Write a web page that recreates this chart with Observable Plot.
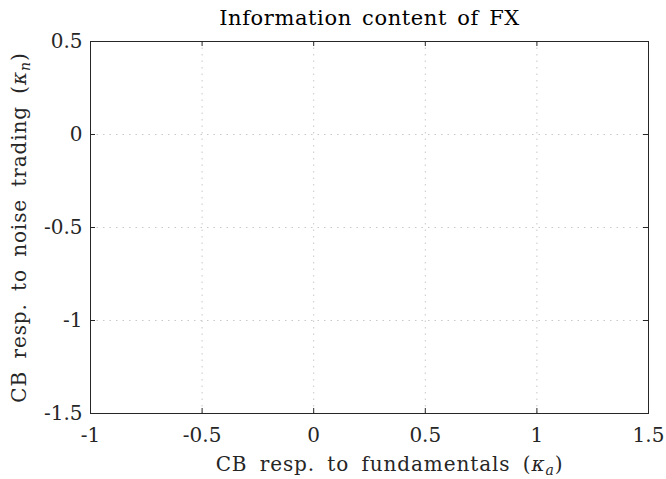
<!DOCTYPE html>
<html><head><meta charset="utf-8">
<script src="https://cdn.jsdelivr.net/npm/d3@7"></script>
<script src="https://cdn.jsdelivr.net/npm/@observablehq/plot@0.6"></script>
<style>body{margin:0;background:#fff}</style>
</head><body><div id="chart"></div>
<script>
const title = "Information content of FX";
const xLabel = "CB resp. to fundamentals (κa)";
const yLabel = "CB resp. to noise trading (κn)";
const xDomain = [-1, 1.5];
const yDomain = [-1.5, 0.5];
const xTicks = [-1, -0.5, 0, 0.5, 1, 1.5];
const yTicks = [-1.5, -1, -0.5, 0, 0.5];

const W = 666, H = 479, mL = 90, mR = 18, mT = 41, mB = 66;
const fw = W - mL - mR, fh = H - mT - mB, tk = 5;
const font = "'DejaVu Serif', 'Liberation Serif', serif";
const fmt = d => String(d);

const chart = Plot.plot({
  width: W, height: H,
  marginLeft: mL, marginRight: mR, marginTop: mT, marginBottom: mB,
  style: {fontFamily: font, fontSize: "20px", color: "#262626", background: "#fff"},
  x: {domain: xDomain, ticks: xTicks},
  y: {domain: yDomain, ticks: yTicks},
  marks: [
    Plot.ruleX(xTicks.slice(1, -1), {x: d => d, stroke: "#c8c8c8", strokeDasharray: "1.5,5"}),
    Plot.ruleY(yTicks.slice(1, -1), {y: d => d, stroke: "#c8c8c8", strokeDasharray: "1.5,5"}),
    Plot.ruleX(xTicks, {x: d => d, insetTop: fh - tk, stroke: "#262626"}),
    Plot.ruleX(xTicks, {x: d => d, insetBottom: fh - tk, stroke: "#262626"}),
    Plot.ruleY(yTicks, {y: d => d, insetRight: fw - tk, stroke: "#262626"}),
    Plot.ruleY(yTicks, {y: d => d, insetLeft: fw - tk, stroke: "#262626"}),
    Plot.frame({stroke: "#262626", strokeWidth: 1}),
    Plot.axisX(xTicks, {tickSize: 0, tickPadding: 14, tickFormat: fmt, fontSize: 20, label: null}),
    Plot.axisY(yTicks, {tickSize: 0, tickPadding: 8, tickFormat: fmt, fontSize: 20, label: null}),
    Plot.text([title], {text: d => d, frameAnchor: "top", dy: -23, lineAnchor: "middle", textAnchor: "middle", fontSize: 21, fill: "#000", className: "ttl"}),
    Plot.text([xLabel], {text: d => d, frameAnchor: "bottom", dx: 20, dy: 51, lineAnchor: "middle", textAnchor: "middle", fontSize: 20, fill: "#262626", className: "lbl"}),
    Plot.text([yLabel], {text: d => d, frameAnchor: "left", dx: -71, rotate: -90, lineAnchor: "middle", textAnchor: "middle", fontSize: 20, fill: "#262626", className: "lbl"})
  ]
});
document.getElementById("chart").append(chart);
d3.select(chart).selectAll(".ttl text").style("letter-spacing", "0.6px").style("word-spacing", "3px");
d3.select(chart).selectAll(".lbl text").style("letter-spacing", "0.9px").style("word-spacing", "5px");

// render kappa italic with subscript
d3.select(chart).selectAll("text").each(function() {
  const t = this.textContent;
  const m = t.match(/^(.*\()κ(\w)(\))$/);
  if (!m) return;
  const el = d3.select(this);
  el.text(null);
  el.append("tspan").text(m[1]);
  el.append("tspan").attr("font-style", "italic").text("κ");
  el.append("tspan").attr("font-style", "italic").attr("font-size", "14px").attr("dy", "4").text(m[2]);
  el.append("tspan").attr("dy", "-4").text(m[3]);
});
</script></body></html>
